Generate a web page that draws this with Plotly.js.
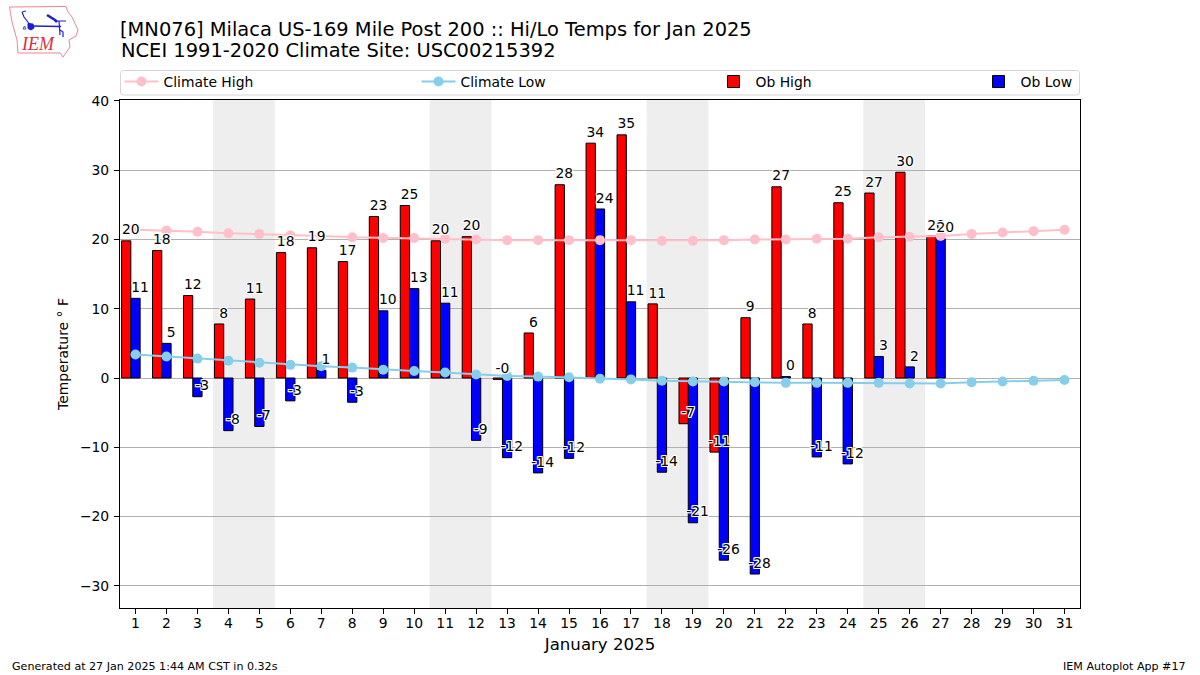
<!DOCTYPE html>
<html><head><meta charset="utf-8">
<script src="https://cdn.plot.ly/plotly-3.0.1.min.js"></script>
<style>html,body{margin:0;padding:0;background:#fff}</style>
</head><body><div id="chart" style="width:1200px;height:675px"></div>
<script>
const days=[1,2,3,4,5,6,7,8,9,10,11,12,13,14,15,16,17,18,19,20,21,22,23,24,25,26,27,28,29,30,31];
const obDays=days.slice(0,27);
const climateHigh=[21.4,21.3,21.1,20.9,20.8,20.6,20.5,20.3,20.2,20.2,20.1,20,19.9,19.9,19.9,19.9,19.9,19.8,19.8,19.9,20,20,20.1,20.1,20.3,20.4,20.5,20.8,21,21.2,21.4];
const climateLow=[3.4,3.1,2.8,2.5,2.2,1.9,1.7,1.5,1.2,1,0.8,0.5,0.3,0.2,0.1,-0.1,-0.2,-0.4,-0.5,-0.5,-0.6,-0.7,-0.7,-0.7,-0.7,-0.8,-0.8,-0.6,-0.5,-0.4,-0.3];
const obHigh=[19.8,18.4,11.9,7.8,11.4,18.1,18.8,16.8,23.3,24.9,19.8,20.4,-0.2,6.5,27.9,33.9,35.1,10.7,-6.6,-10.7,8.7,27.6,7.8,25.3,26.7,29.7,20.5];
const obLow=[11.5,5,-2.7,-7.6,-7,-3.3,1.1,-3.5,9.7,12.9,10.8,-9,-11.5,-13.7,-11.6,24.4,11,-13.6,-20.9,-26.3,-28.3,0.2,-11.4,-12.4,3.1,1.6,20.1];
const highLabels=["20","18","12","8","11","18","19","17","23","25","20","20","-0","6","28","34","35","11","-7","-11","9","27","8","25","27","30","20"];
const lowLabels=["11","5","-3","-8","-7","-3","1","-3","10","13","11","-9","-12","-14","-12","24","11","-14","-21","-26","-28","0","-11","-12","3","2","20"];
const weekends=[[3.5,5.5],[10.5,12.5],[17.5,19.5],[24.5,26.5]];

const font="'DejaVu Sans', sans-serif";
const halo="1px 0 0 #fff,-1px 0 0 #fff,0 1px 0 #fff,0 -1px 0 #fff,1px 1px 0 #fff,-1px -1px 0 #fff,1px -1px 0 #fff,-1px 1px 0 #fff";
const L=120,R=1080,T=100,B=608;
const px=x=>(x-L)/(R-L), py=y=>(B-y)/(B-T);
function pathPx(pts,close){return pts.map((p,i)=>(i?'L':'M')+px(p[0]).toFixed(5)+','+py(p[1]).toFixed(5)).join(' ')+(close?' Z':'');}
function logoLine(pts,color,w,close,fill){return {type:'path',xref:'paper',yref:'paper',layer:'above',path:pathPx(pts,close),line:{color:color,width:w},fillcolor:fill||'rgba(0,0,0,0)'};}
const r=3,lx0=120.5,lx1=1079.5,ly0=70.5,ly1=95;
const legendBox={type:'path',xref:'paper',yref:'paper',layer:'below',line:{color:'#d5d5d5',width:1},fillcolor:'#fff',
 path:`M${px(lx0+r)},${py(ly0)} L${px(lx1-r)},${py(ly0)} Q${px(lx1)},${py(ly0)} ${px(lx1)},${py(ly0+r)} L${px(lx1)},${py(ly1-r)} Q${px(lx1)},${py(ly1)} ${px(lx1-r)},${py(ly1)} L${px(lx0+r)},${py(ly1)} Q${px(lx0)},${py(ly1)} ${px(lx0)},${py(ly1-r)} L${px(lx0)},${py(ly0+r)} Q${px(lx0)},${py(ly0)} ${px(lx0+r)},${py(ly0)} Z`};
const iowa=[[9.5,7],[66,6.5],[68,12],[72,17],[78,30],[76,36],[69,40],[70,47],[63,57],[60,53],[18,53],[17,40],[12,22]];
const logo=[
 logoLine(iowa,'#e38a94',1,true),
 logoLine([[31,26],[61,26.5]],'#1d1dd8',1.6),
 logoLine([[22,12],[24,17],[31,26]],'#1d1dd8',1.2),
 logoLine([[22,12],[26,11]],'#1d1dd8',1),
 logoLine([[47,15],[55,20],[57,22]],'#1d1dd8',2.5),
 logoLine([[55,21],[66,21]],'#1d1dd8',1),
 logoLine([[59,21],[60,35]],'#1d1dd8',1.2),
 logoLine([[60,30],[63,32],[63,37]],'#1d1dd8',1.2),
 logoLine([[28,23.5],[33,24],[34,28],[31,30],[28,28.5]],'#1d1dd8',1,true,'#1d1dd8'),
 logoLine([[23,29],[24.5,26],[26,29]],'#1d1dd8',0.8,true)
];
const shapes=weekends.map(w=>({type:'rect',xref:'x',yref:'paper',x0:w[0],x1:w[1],y0:0,y1:1,fillcolor:'#eeeeee',line:{width:0},layer:'below'})).concat([legendBox],logo);

const labelTrace=(x,y,text)=>({type:'scatter',mode:'markers+text',x,y,text,textposition:'top center',showlegend:false,cliponaxis:false,marker:{size:3,opacity:0},textfont:{family:font,size:13.9,color:'#000',shadow:halo},hoverinfo:'skip'});
const traces=[
 {type:'scatter',mode:'lines+markers',name:'Climate High',x:days,y:climateHigh,line:{color:'#ffc0cb',width:2},marker:{color:'#ffc0cb',size:10},legendwidth:248},
 {type:'scatter',mode:'lines+markers',name:'Climate Low',x:days,y:climateLow,line:{color:'#87ceeb',width:2},marker:{color:'#87ceeb',size:10},legendwidth:246},
 {type:'bar',name:'Ob High',x:obDays,y:obHigh,width:0.3,offset:-0.45,marker:{color:'#ff0000',line:{color:'#000',width:1}},legendwidth:216},
 {type:'bar',name:'Ob Low',x:obDays,y:obLow,width:0.3,offset:-0.15,marker:{color:'#0000ff',line:{color:'#000',width:1}},legendwidth:56},
 labelTrace(obDays.map(d=>d-0.15),obHigh,highLabels),
 labelTrace(obDays.map(d=>d+0.15),obLow,lowLabels)
];
const layout={
 width:1200,height:675,autosize:false,paper_bgcolor:'#fff',plot_bgcolor:'rgba(0,0,0,0)',
 font:{family:font,size:13.9,color:'#000'},
 margin:{l:L,r:1200-R,t:T,b:675-B,pad:0},
 barmode:'overlay',showlegend:true,
 title:{text:'[MN076] Milaca US-169 Mile Post 200 :: Hi/Lo Temps for Jan 2025',font:{family:font,size:19.45,color:'#000'},x:px(120),xref:'paper',xanchor:'left',y:1-29/675,yref:'container',yanchor:'middle'},
 xaxis:{range:[0.5,31.5],tickmode:'array',tickvals:days,ticktext:days.map(String),ticks:'outside',ticklen:5,tickwidth:1,tickcolor:'#000',ticklabelstandoff:-3,showgrid:false,zeroline:false,showline:true,mirror:true,linecolor:'#000',linewidth:1,
   title:{text:'January 2025',font:{family:font,size:16.6,color:'#000'},standoff:8},tickfont:{family:font,size:13.9,color:'#000'}},
 yaxis:{range:[-33.2,40.13],tickmode:'array',tickvals:[-30,-20,-10,0,10,20,30,40],ticktext:['−30','−20','−10','0','10','20','30','40'],ticks:'outside',ticklen:5,tickwidth:1,tickcolor:'#000',ticklabelstandoff:2,showgrid:true,gridcolor:'#b0b0b0',gridwidth:1,zeroline:false,showline:true,mirror:true,linecolor:'#000',linewidth:1,
   title:{text:'Temperature ° F',font:{family:font,size:13.9,color:'#000'},standoff:8},tickfont:{family:font,size:13.9,color:'#000'}},
 legend:{orientation:'h',x:px(119.5),xanchor:'left',y:py(66),yanchor:'top',bgcolor:'rgba(0,0,0,0)',borderwidth:0,font:{family:font,size:13.9,color:'#000'},itemwidth:34,traceorder:'normal',entrywidthmode:'pixels'},
 shapes:shapes,
 annotations:[
  {xref:'paper',yref:'paper',x:px(120),y:py(51),text:'NCEI 1991-2020 Climate Site: USC00215392',showarrow:false,xanchor:'left',yanchor:'middle',xshift:-1,font:{family:font,size:19.45,color:'#000'}},
  {xref:'paper',yref:'paper',x:px(19),y:py(44),text:'<i>IEM</i>',showarrow:false,xanchor:'left',yanchor:'middle',font:{family:"'Liberation Serif', serif",size:18,color:'#d9303c'}},
  {xref:'paper',yref:'paper',x:px(12),y:py(666),text:'Generated at 27 Jan 2025 1:44 AM CST in 0.32s',showarrow:false,xanchor:'left',yanchor:'middle',xshift:-2,font:{family:font,size:11.1,color:'#000'}},
  {xref:'paper',yref:'paper',x:px(1188),y:py(666),text:'IEM Autoplot App #17',showarrow:false,xanchor:'right',yanchor:'middle',font:{family:font,size:11.1,color:'#000'}}
 ]
};
Plotly.newPlot('chart',traces,layout,{displayModeBar:false,staticPlot:true});
</script></body></html>
